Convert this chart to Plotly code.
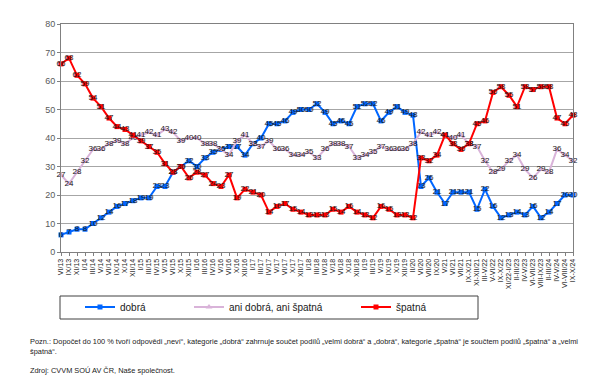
import plotly.graph_objects as go

categories = ["VI/13","IX/13","XI/13","I/14","III/14","V/14","VI/14","IX/14","X/14","XII/14",
              "I/15","III/15","IV/15","V/15","VI/15","X/15","XII/15","I/16","III/16","IV/16",
              "V/16","VI/16","X/16","XII/16","I/17","III/17","IV/17","V/17","VI/17","X/17",
              "XII/17","I/18","III/18","IV/18","V/18","VI/18","X/18","XII/18","I/19","III/19",
              "V/19","IX/19","X/19","XII/19","II/20","VI/20","VII/20","IX/20","V/21","VI/21",
              "VII/21","IX-X/21","XI-XII/21","III-V/22","V-VI/22","IX-X/22","XI/22-I/23","II-III/23","IV-V/23","VI-VII/23",
              "VIII-IX/23","II-III/24","IV-V/24","VI-VIII/24","IX-X/24"]

dobra = [6,7,8,8,10,12,14,16,17,18,19,19,23,23,28,30,32,30,33,35,36,37,37,34,38,40,45,45,46,
         49,50,50,52,49,45,46,45,51,52,52,46,49,51,49,48,
         23,26,21,17,21,21,21,15,22,16,12,13,14,13,16,12,14,17,20,20]
ani = [27,24,28,32,36,36,38,39,38,40,41,42,41,43,
       42,39,40,40,38,38,36,34,39,41,38,37,39,36,36,34,34,35,33,
       36,38,38,37,33,34,35,37,36,36,36,38,
       42,41,42,41,40,41,38,37,32,28,29,32,34,29,26,29,28,36,34,32]
spatna = [66,68,62,59,54,51,47,44,43,41,39,37,35,31,
          28,30,26,28,27,24,23,27,19,22,21,20,14,16,17,15,14,13,13,
          13,15,14,16,14,13,12,16,15,13,13,12,
          33,32,34,41,38,36,38,45,46,56,58,55,51,58,57,58,58,47,45,48]

x = list(range(len(categories)))
FONT = "Liberation Sans, Arial, sans-serif"

fig = go.Figure()

def add(name, vals, color, symbol, msize, legend):
    fig.add_trace(go.Scatter(
        x=x, y=vals, name=name, mode="lines+markers+text",
        line=dict(color=color, width=2),
        marker=dict(color=color, symbol=symbol, size=msize),
        text=[str(v) for v in vals], textposition="middle center",
        textfont=dict(family=FONT, size=8, color="#1a1a1a"),
        cliponaxis=False, legend=legend,
    ))

add("dobrá", dobra, "#0066ff", "square", 5, "legend")
add("ani dobrá, ani špatná", ani, "#d9b3d9", "triangle-up", 6, "legend2")
add("špatná", spatna, "#ff0000", "square", 5, "legend3")

# plot area: x 53..565, y 16..244 px
L, R, T, B = 53, 605 - 565, 16, 378 - 244
W, H = 565 - 53, 244 - 16

def px(xp):
    return (xp - L) / W

def py(yp):
    return (244 - yp) / H

def leg(xpix):
    return dict(orientation="h", x=px(xpix), y=py(299), xanchor="left", yanchor="middle",
                borderwidth=0, bgcolor="rgba(0,0,0,0)", itemwidth=30,
                font=dict(family=FONT, size=10, color="#1a1a1a"))

fig.update_layout(
    width=605, height=378,
    margin=dict(l=L, r=R, t=T, b=B),
    paper_bgcolor="white", plot_bgcolor="white",
    font=dict(family=FONT, size=9, color="#404040"),
    showlegend=True,
    legend=leg(72), legend2=leg(181), legend3=leg(348),
    xaxis=dict(
        range=[0, len(categories) - 1],
        tickmode="array", tickvals=x, ticktext=categories,
        tickangle=-90, tickfont=dict(family=FONT, size=7, color="#1a1a1a"),
        ticks="outside", ticklen=3, tickcolor="#808080",
        showgrid=False, showline=True, linecolor="#808080", mirror=True,
        zeroline=False,
    ),
    yaxis=dict(
        range=[0, 80], dtick=10, tick0=0,
        tickfont=dict(family=FONT, size=9, color="#595959"),
        ticks="outside", ticklen=3, tickcolor="#808080",
        showgrid=True, gridcolor="#a6a6a6", gridwidth=1,
        showline=True, linecolor="#808080", mirror=True,
        zeroline=False,
    ),
)

fig.add_shape(type="rect", xref="paper", yref="paper",
              x0=px(52), x1=px(470), y0=py(288), y1=py(311),
              line=dict(color="#404040", width=1), fillcolor="rgba(0,0,0,0)", layer="below")

note = ("Pozn.: Dopočet do 100 % tvoří odpovědi „neví“, kategorie „dobrá“ zahrnuje součet podílů „velmi dobrá“ a „dobrá“, "
        "kategorie „špatná“ je součtem podílů „špatná“ a „velmi<br>špatná“.")
fig.add_annotation(text=note, xref="paper", yref="paper", x=px(20), y=py(327),
                   xanchor="left", yanchor="top", showarrow=False, align="left",
                   font=dict(family=FONT, size=7.4, color="#1a1a1a"))
fig.add_annotation(text="Zdroj: CVVM SOÚ AV ČR, Naše společnost.", xref="paper", yref="paper",
                   x=px(20), y=py(356), xanchor="left", yanchor="top", showarrow=False,
                   font=dict(family=FONT, size=7.4, color="#1a1a1a"))

fig.write_html("out.html")
